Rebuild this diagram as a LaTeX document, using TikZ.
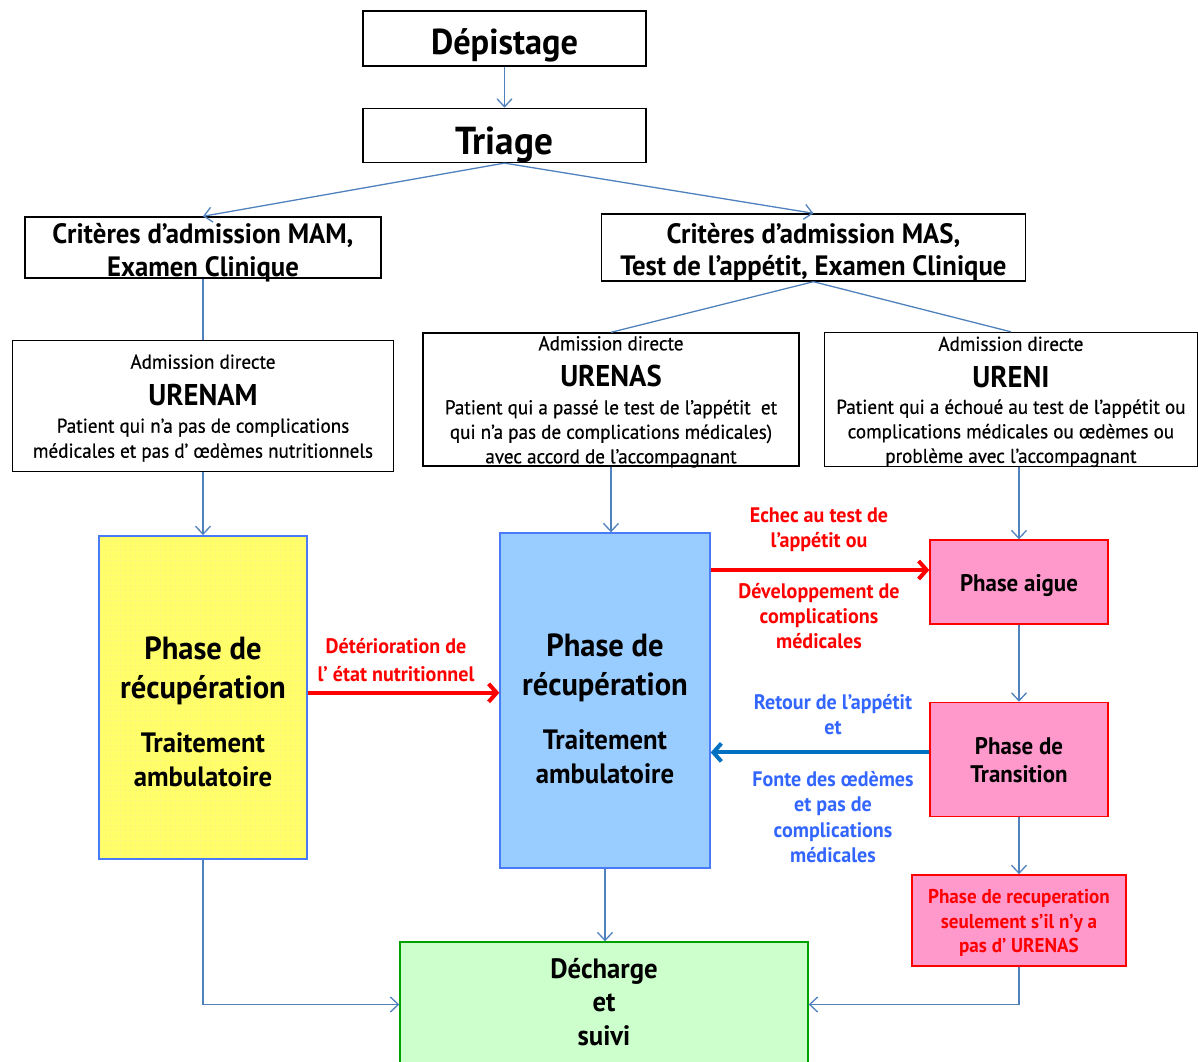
\documentclass[tikz,border=0pt]{standalone}
\usepackage{fontspec}
\setmainfont{PT Sans}[FakeStretch=0.955]
\newfontfamily\medfont{PT Sans}[FakeStretch=0.955,FakeBold=0.6]
\usetikzlibrary{arrows.meta,positioning,calc}
\definecolor{linkblue}{HTML}{4F81BD}
\definecolor{phaseline}{HTML}{4A7BF7}
\definecolor{lightblue}{HTML}{99CCFF}
\definecolor{yelfill}{HTML}{FFFF66}
\definecolor{pinkfill}{HTML}{FF99CC}
\definecolor{greenfill}{HTML}{CCFFCC}
\definecolor{greenline}{HTML}{00A000}
\definecolor{labblue}{HTML}{3366FF}
\definecolor{arrblue}{HTML}{0070C0}
\newcommand{\fsz}[2]{\fontsize{#1}{#2}\selectfont}

\begin{document}
\begin{tikzpicture}[x=1pt,y=-1pt,
  plain/.style={draw=black,line width=1.4pt,inner sep=0pt,align=center,text depth=0pt},
  phase/.style={draw=phaseline,line width=1.4pt,inner sep=0pt},
  pinkbox/.style={draw=red,fill=pinkfill,line width=1.4pt,inner sep=0pt,align=center,text depth=0pt},
  txt/.style={inner sep=0pt,anchor=base,align=center},
  link/.style={draw=linkblue,line width=1.3pt,-{Straight Barb[length=8pt,width=15pt]}},
  wire/.style={draw=linkblue,line width=1.3pt},
  redarr/.style={draw=red,line width=4pt,-{Straight Barb[length=8pt,width=18pt]}},
  bluearr/.style={draw=arrblue,line width=4pt,-{Straight Barb[length=8pt,width=18pt]}}]
\useasboundingbox (0,0) rectangle (1198,1061);

% depistage et triage
\node[plain,minimum width=283pt,minimum height=55pt,text height=31pt,font=\bfseries\fsz{36}{40}] (dep) at (504.5,38.5) {Dépistage};
\node[plain,minimum width=283pt,minimum height=54pt,text height=38pt,font=\bfseries\fsz{39}{44},below=41pt of dep] (tri) {Triage};

% criteres
\node[plain,minimum width=356pt,minimum height=61pt,text height=57pt,font=\bfseries\fsz{28}{33}] (mam) at (203,247.5) {Critères d’admission MAM,\\Examen Clinique};
\node[plain,minimum width=424pt,minimum height=67pt,text height=55pt,font=\bfseries\fsz{28}{32}, right=219pt of mam] (mas) {Critères d’admission MAS,\\Test de l’appétit, Examen Clinique};

% admissions directes
\node[plain,minimum width=381pt,minimum height=131pt,below=61pt of mam] (urenam) {};
\node[plain,minimum width=376pt,minimum height=133pt] (urenas) at (611,399.5) {};
\node[plain,minimum width=373pt,minimum height=134pt,right=24pt of urenas] (ureni) {};
\node[txt,font=\medfont\fsz{20}{25}] (namadm) at ($(urenam.north)+(0,29)$) {Admission directe};
\node[txt,font=\bfseries\fsz{30}{34}] (namtit) at ($(urenam.north)+(0,65.5)$) {URENAM};
\node[txt,font=\medfont\fsz{20}{25}] (namtxt) at ($(urenam.north)+(0,118)$) {Patient qui n’a pas de complications\\médicales et pas d’ œdèmes nutritionnels};
\node[txt,font=\medfont\fsz{20}{25}] (nasadm) at ($(urenas.north)+(0,18)$) {Admission directe};
\node[txt,font=\bfseries\fsz{30}{34}] (nastit) at ($(urenas.north)+(0,54.5)$) {URENAS};
\node[txt,font=\medfont\fsz{20}{24.5}] (nastxt) at ($(urenas.north)+(0,131)$) {Patient qui a passé le test de l’appétit\ \ et\\qui n’a pas de complications médicales)\\avec accord de l’accompagnant};
\node[txt,font=\medfont\fsz{20}{25}] (niadm) at ($(ureni.north)+(0,19)$) {Admission directe};
\node[txt,font=\bfseries\fsz{30}{34}] (nitit) at ($(ureni.north)+(0,55.5)$) {URENI};
\node[txt,font=\medfont\fsz{20}{24.5}] (nitxt) at ($(ureni.north)+(0,131)$) {Patient qui a échoué au test de l’appétit ou\\complications médicales ou œdèmes ou\\problème avec l’accompagnant};

% phases
\node[phase,fill=yelfill,minimum width=208pt,minimum height=323pt,below=63pt of urenam] (yel) {};
\draw[yellow!55!white,line width=0.5pt,step=5pt] ($(yel.south west)+(1.5,-1.5)$) grid ($(yel.north east)+(-1.5,1.5)$);
\node[phase,fill=lightblue,minimum width=210pt,minimum height=335pt] (blu) at (605,700.5) {};
\node[txt,font=\bfseries\fsz{32}{39}] (yeltit) at ($(yel.north)+(0,163)$) {Phase de\\récupération};
\node[txt,font=\bfseries\fsz{28}{34}] (yeltxt) at ($(yel.north)+(0,251)$) {Traitement\\ambulatoire};
\node[txt,font=\bfseries\fsz{32}{39}] (blutit) at ($(blu.north)+(0,163)$) {Phase de\\récupération};
\node[txt,font=\bfseries\fsz{28}{34}] (blutxt) at ($(blu.north)+(0,251)$) {Traitement\\ambulatoire};

\node[pinkbox,minimum width=178pt,minimum height=84pt,text height=19pt,font=\bfseries\fsz{24}{28}] (aig) at (1019,582) {Phase aigue};
\node[pinkbox,minimum width=178pt,minimum height=114pt,text height=47pt,font=\bfseries\fsz{24}{28},below=77pt of aig] (tra) {Phase de\\Transition};
\node[pinkbox,text=red,minimum width=214pt,minimum height=91pt,text height=65pt,font=\bfseries\fsz{20}{24.5},below=57pt of tra] (rec) {Phase de recuperation\\seulement s’il n’y a\\pas d’ URENAS};
\node[draw=greenline,fill=greenfill,line width=1.4pt,inner sep=0pt,align=center,minimum width=408pt,minimum height=125pt,text height=81pt,text depth=0pt,font=\bfseries\fsz{28}{33.5}] (dec) at (604,1004.5) {Décharge\\et\\suivi};

% liens
\draw[link] (dep) -- (tri);
\draw[link] (tri.south) -- (mam.north);
\draw[link] (tri.south) -- (mas.north);
\draw[wire] (mam) -- (urenam);
\draw[wire] (mas.south) -- (urenas.north);
\draw[wire] (mas.south) -- (ureni.north);
\draw[link] (urenam) -- (yel);
\draw[link] (urenas.south) -- (urenas.south |- blu.north);
\draw[link] (aig.north |- ureni.south) -- (aig.north);
\draw[link] (aig) -- (tra);
\draw[link] (tra) -- (rec);
\draw[link] (yel.south) |- (dec.west);
\draw[link] (blu.south) -- (blu.south |- dec.north);
\draw[link] (rec.south) |- (dec.east);

% transferts
\coordinate (yelout) at ($(yel.east)+(0,-4.5)$);
\coordinate (aigin) at ($(aig.west)+(0,-12)$);
\coordinate (traout) at ($(tra.west)+(0,-7)$);
\draw[redarr] (yelout) -- (yelout -| blu.west);
\draw[redarr] (blu.east |- aigin) -- (aigin);
\draw[bluearr] (traout) -- (blu.east |- traout);
\node[txt,text=red,font=\bfseries\fsz{21}{28}] (detlab) at (396,681.5) {Détérioration de\\l’ état nutritionnel};
\node[txt,text=red,font=\bfseries\fsz{21}{25}] (echlab) at (819,547.5) {Echec au test de\\l’appétit ou};
\node[txt,text=red,font=\bfseries\fsz{21}{25}] (devlab) at (819,648.5) {Développement de\\complications\\médicales};
\node[txt,text=labblue,font=\bfseries\fsz{21}{25}] (retlab) at (833,734.5) {Retour de l’appétit\\et};
\node[txt,text=labblue,font=\bfseries\fsz{21}{25.5}] (fonlab) at (833,862.5) {Fonte des œdèmes\\et pas de\\complications\\médicales};
\end{tikzpicture}
\end{document}
